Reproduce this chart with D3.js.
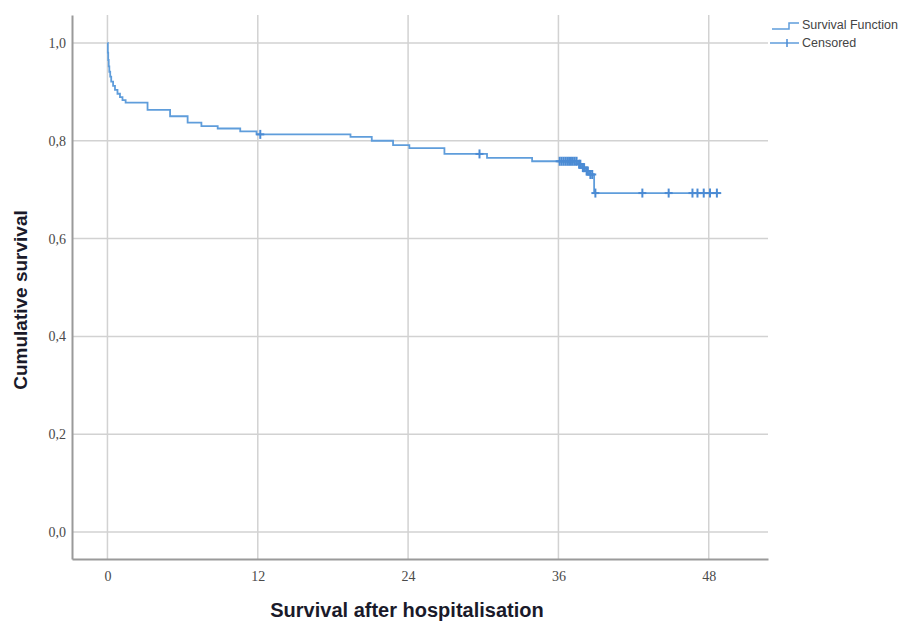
<!DOCTYPE html>
<html>
<head>
<meta charset="utf-8">
<script src="https://cdn.jsdelivr.net/npm/d3@7"></script>
<style>
  html, body { margin: 0; padding: 0; background: #fff; }
  svg { display: block; }
</style>
</head>
<body>
<svg id="chart" width="909" height="622"></svg>
<script>
// ---- data ----
const eventTimes = [0, 0.03, 0.06, 0.1, 0.15, 0.22, 0.3, 0.45, 0.6, 0.8, 1.0, 1.2, 1.45,
  3.2, 5.0, 6.4, 7.5, 8.8, 10.6, 11.9, 19.4, 21.1, 22.8, 24.1, 26.9, 30.3, 33.9,
  37.55, 37.85, 38.15, 38.45, 38.85];
const survivalValues = [1.0, 0.98, 0.965, 0.952, 0.941, 0.931, 0.921, 0.912, 0.904, 0.896, 0.889, 0.883, 0.878,
  0.863, 0.850, 0.837, 0.830, 0.825, 0.819, 0.813, 0.808, 0.800, 0.791, 0.785, 0.773, 0.765, 0.758,
  0.752, 0.745, 0.738, 0.731, 0.693];
const endTime = 49.0;
const censorTimes = [12.2, 29.7,
  36.1, 36.25, 36.4, 36.55, 36.7, 36.85, 37.0, 37.15, 37.3, 37.45, 37.65, 37.75, 37.95, 38.05, 38.25, 38.35, 38.55, 38.7,
  38.95, 42.7, 44.8, 46.7, 47.1, 47.6, 48.1, 48.65];
const xTicks = [0, 12, 24, 36, 48];
const yTicks = [0, 0.2, 0.4, 0.6, 0.8, 1.0];
const legendLabels = ["Survival Function", "Censored"];
const xTitle = "Survival after hospitalisation";
const yTitle = "Cumulative survival";

// ---- layout ----
const svg = d3.select("#chart");
const x = d3.scaleLinear().domain([-2.83, 52.73]).range([72, 768]);
const y = d3.scaleLinear().domain([-0.055, 1.057]).range([559, 15]);

const lineColor = "#5f9ddb";
const markColor = "#4b8bd4";

// gridlines
svg.append("g").selectAll("line").data(yTicks).join("line")
  .attr("x1", x.range()[0]).attr("x2", x.range()[1])
  .attr("y1", d => y(d)).attr("y2", d => y(d))
  .attr("stroke", "#d2d2d2").attr("stroke-width", 1.5);
svg.append("g").selectAll("line").data(xTicks).join("line")
  .attr("x1", d => x(d)).attr("x2", d => x(d))
  .attr("y1", y.range()[0]).attr("y2", y.range()[1])
  .attr("stroke", "#d2d2d2").attr("stroke-width", 1.5);

// axes
const xAxis = svg.append("g").attr("transform", `translate(0,${y.range()[0]})`)
  .call(d3.axisBottom(x).tickValues(xTicks).tickSize(0).tickPadding(12).tickFormat(d3.format("d")));
const yAxis = svg.append("g").attr("transform", `translate(${x.range()[0]},0)`)
  .call(d3.axisLeft(y).tickValues(yTicks).tickSize(0).tickPadding(6)
    .tickFormat(d => d3.format(".1f")(d).replace(".", ",")));
[xAxis, yAxis].forEach(g => {
  g.select(".domain").attr("stroke", "#9a9a9a").attr("stroke-width", 2);
  g.selectAll("text").attr("fill", "#4a4a4a").style("font-family", "'Liberation Serif', serif")
    .style("font-size", "14px");
});

// survival step line
const pts = eventTimes.map((t, i) => [t, survivalValues[i]]);
pts.push([endTime, survivalValues[survivalValues.length - 1]]);
const line = d3.line().x(d => x(d[0])).y(d => y(d[1])).curve(d3.curveStepAfter);
svg.append("path").datum(pts).attr("d", line)
  .attr("fill", "none").attr("stroke", lineColor).attr("stroke-width", 1.8);

// censored marks
const survAt = t => {
  let s = survivalValues[0];
  for (let i = 0; i < eventTimes.length; i++) if (eventTimes[i] <= t) s = survivalValues[i];
  return s;
};
const cg = svg.append("g").attr("stroke", markColor).attr("stroke-width", 2);
censorTimes.forEach(t => {
  const cx = x(t), cy = y(survAt(t));
  cg.append("line").attr("x1", cx).attr("x2", cx).attr("y1", cy - 4.5).attr("y2", cy + 4.5);
  cg.append("line").attr("x1", cx - 4).attr("x2", cx + 4).attr("y1", cy).attr("y2", cy);
});

// titles
svg.append("text").attr("x", 407).attr("y", 617).attr("text-anchor", "middle")
  .style("font-family", "'Liberation Sans', Arial, sans-serif").style("font-weight", "bold")
  .style("font-size", "20px").attr("fill", "#1a1a2a").text(xTitle);
svg.append("text").attr("transform", "translate(27,300) rotate(-90)").attr("text-anchor", "middle")
  .style("font-family", "'Liberation Sans', Arial, sans-serif").style("font-weight", "bold")
  .style("font-size", "19px").attr("fill", "#1a1a2a").text(yTitle);

// legend
const lg = svg.append("g");
lg.append("path").attr("d", `M772,29 H789 V23 H799`).attr("fill", "none")
  .attr("stroke", lineColor).attr("stroke-width", 1.5);
lg.append("line").attr("x1", 770).attr("x2", 799).attr("y1", 43).attr("y2", 43)
  .attr("stroke", lineColor).attr("stroke-width", 1.5);
lg.append("line").attr("x1", 787).attr("x2", 787).attr("y1", 39).attr("y2", 47)
  .attr("stroke", markColor).attr("stroke-width", 1.5);
lg.selectAll("text").data(legendLabels).join("text")
  .attr("x", 802).attr("y", (d, i) => 29 + i * 18)
  .style("font-family", "'Liberation Sans', Arial, sans-serif").style("font-size", "12.5px")
  .attr("fill", "#444").text(d => d);
</script>
</body>
</html>
